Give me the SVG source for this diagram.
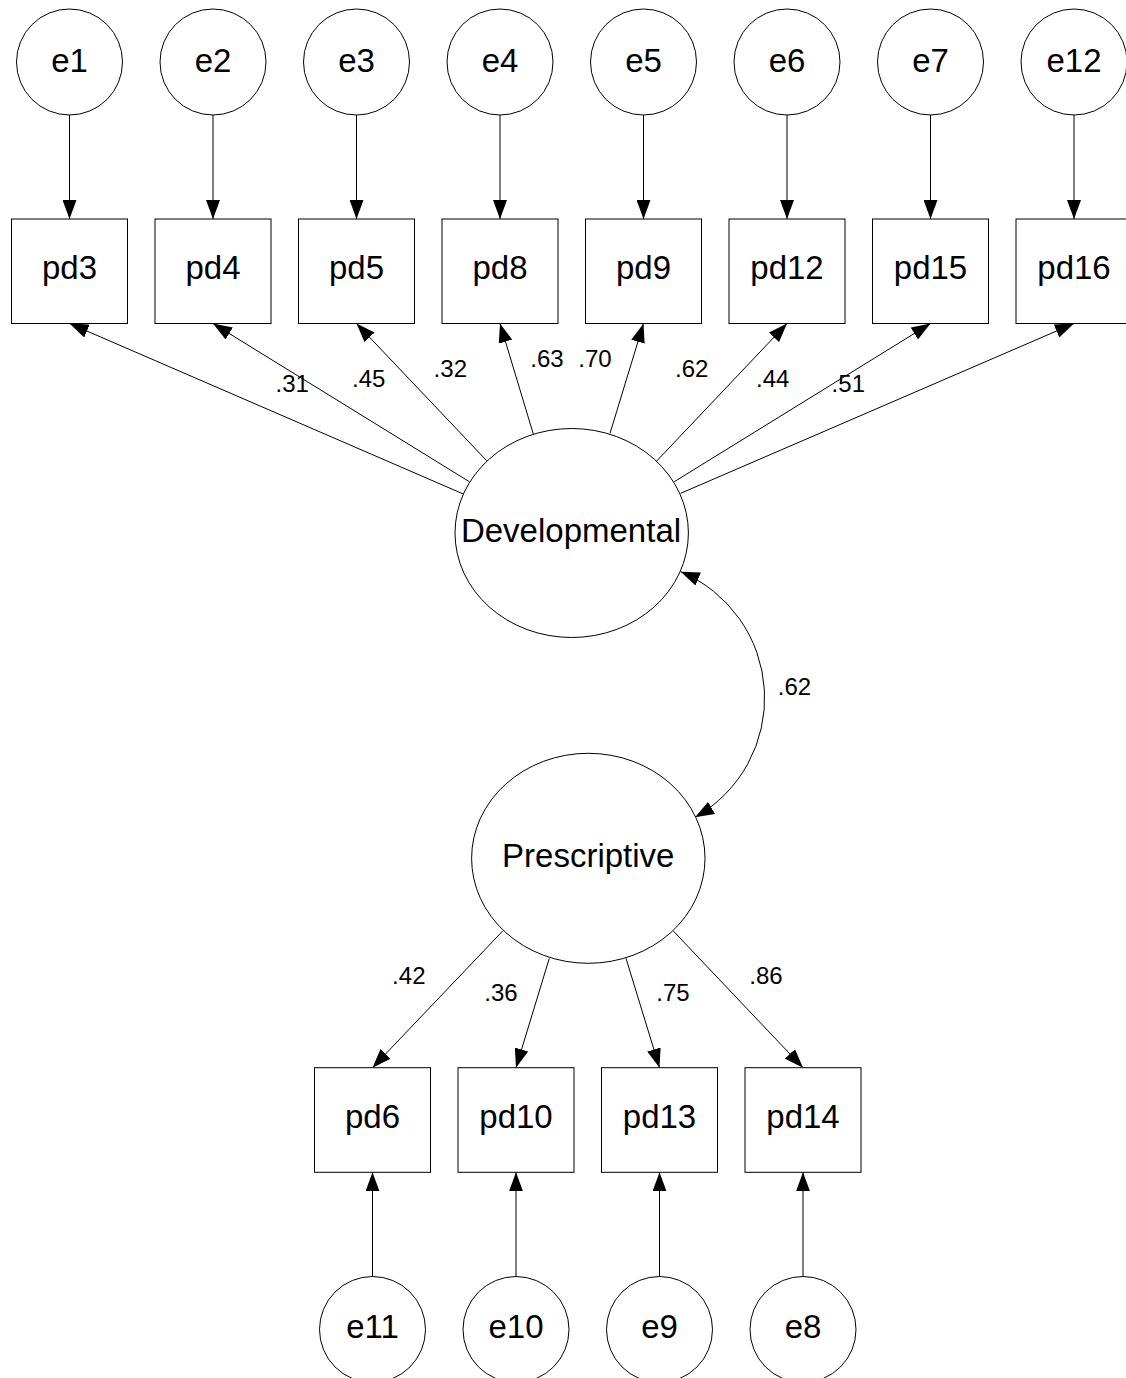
<svg xmlns="http://www.w3.org/2000/svg" width="1126" height="1378" viewBox="0 0 1126 1378">
  <defs>
    <marker id="head" markerUnits="userSpaceOnUse" markerWidth="20" markerHeight="14" refX="19" refY="7" orient="auto-start-reverse">
      <path d="M0,0 L19,7 L0,14 z" fill="#000"/>
    </marker>
    <style>
      .shape { fill: #fff; stroke: #000; stroke-width: 1; }
      .lbl { font-family: "Liberation Sans", Arial, sans-serif; font-size: 33px; text-anchor: middle; fill: #000; }
      .coef { font-family: "Liberation Sans", Arial, sans-serif; font-size: 24px; text-anchor: middle; fill: #000; }
      .edge { fill: none; stroke: #000; stroke-width: 1; marker-end: url(#head); }
      .both { fill: none; stroke: #000; stroke-width: 1; marker-start: url(#head); marker-end: url(#head); }
    </style>
  </defs>
  <rect width="1126" height="1378" fill="#fff"/>

  <!-- connectors -->
  <g id="connectors">
    <!-- error terms onto the Developmental indicators -->
    <line class="edge" x1="69.5" y1="115" x2="69.5" y2="219"/>
    <line class="edge" x1="213" y1="115" x2="213" y2="219"/>
    <line class="edge" x1="356.5" y1="115" x2="356.5" y2="219"/>
    <line class="edge" x1="500" y1="115" x2="500" y2="219"/>
    <line class="edge" x1="643.5" y1="115" x2="643.5" y2="219"/>
    <line class="edge" x1="787" y1="115" x2="787" y2="219"/>
    <line class="edge" x1="930.5" y1="115" x2="930.5" y2="219"/>
    <line class="edge" x1="1074" y1="115" x2="1074" y2="219"/>

    <!-- Developmental loadings -->
    <line class="edge" x1="463.3" y1="494" x2="69.5" y2="323.5"/>
    <line class="edge" x1="469.3" y1="481.7" x2="213" y2="323.5"/>
    <line class="edge" x1="486.7" y1="460.7" x2="356.5" y2="323.5"/>
    <line class="edge" x1="533.3" y1="434" x2="500" y2="323.5"/>
    <line class="edge" x1="610" y1="433.3" x2="643.5" y2="323.5"/>
    <line class="edge" x1="656.7" y1="461" x2="787" y2="323.5"/>
    <line class="edge" x1="674.3" y1="481.7" x2="930.5" y2="323.5"/>
    <line class="edge" x1="680.7" y1="493.3" x2="1074" y2="323.5"/>

    <!-- factor covariance -->
    <path class="both" d="M680.7,571.7 A137,137 0 0 1 695,817.3"/>

    <!-- Prescriptive loadings -->
    <line class="edge" x1="502.7" y1="931" x2="372.5" y2="1067.7"/>
    <line class="edge" x1="549.3" y1="958.3" x2="516" y2="1067.7"/>
    <line class="edge" x1="626" y1="958.3" x2="659.5" y2="1067.7"/>
    <line class="edge" x1="673.3" y1="931" x2="803" y2="1067.7"/>

    <!-- error terms onto the Prescriptive indicators -->
    <line class="edge" x1="372.5" y1="1276.5" x2="372.5" y2="1172.3"/>
    <line class="edge" x1="516" y1="1276.5" x2="516" y2="1172.3"/>
    <line class="edge" x1="659.5" y1="1276.5" x2="659.5" y2="1172.3"/>
    <line class="edge" x1="803" y1="1276.5" x2="803" y2="1172.3"/>

    <!-- coefficients -->
    <text class="coef" x="292.2" y="392">.31</text>
    <text class="coef" x="368.7" y="387">.45</text>
    <text class="coef" x="450.3" y="377">.32</text>
    <text class="coef" x="547" y="367">.63</text>
    <text class="coef" x="595" y="367">.70</text>
    <text class="coef" x="691.7" y="377">.62</text>
    <text class="coef" x="772.7" y="387">.44</text>
    <text class="coef" x="848.3" y="392">.51</text>
    <text class="coef" x="794.5" y="695">.62</text>
    <text class="coef" x="408.8" y="983.5">.42</text>
    <text class="coef" x="501" y="1000.5">.36</text>
    <text class="coef" x="673" y="1000.5">.75</text>
    <text class="coef" x="766" y="983.5">.86</text>
  </g>

  <!-- error terms, top row -->
  <g id="e1"><circle class="shape" cx="69.5" cy="62" r="53"/><text class="lbl" x="69.5" y="72">e1</text></g>
  <g id="e2"><circle class="shape" cx="213" cy="62" r="53"/><text class="lbl" x="213" y="72">e2</text></g>
  <g id="e3"><circle class="shape" cx="356.5" cy="62" r="53"/><text class="lbl" x="356.5" y="72">e3</text></g>
  <g id="e4"><circle class="shape" cx="500" cy="62" r="53"/><text class="lbl" x="500" y="72">e4</text></g>
  <g id="e5"><circle class="shape" cx="643.5" cy="62" r="53"/><text class="lbl" x="643.5" y="72">e5</text></g>
  <g id="e6"><circle class="shape" cx="787" cy="62" r="53"/><text class="lbl" x="787" y="72">e6</text></g>
  <g id="e7"><circle class="shape" cx="930.5" cy="62" r="53"/><text class="lbl" x="930.5" y="72">e7</text></g>
  <g id="e12"><circle class="shape" cx="1074" cy="62" r="53"/><text class="lbl" x="1074" y="72">e12</text></g>

  <!-- observed indicators, top row -->
  <g id="pd3"><rect class="shape" x="11.5" y="219" width="116" height="104.5"/><text class="lbl" x="69.5" y="279">pd3</text></g>
  <g id="pd4"><rect class="shape" x="155" y="219" width="116" height="104.5"/><text class="lbl" x="213" y="279">pd4</text></g>
  <g id="pd5"><rect class="shape" x="298.5" y="219" width="116" height="104.5"/><text class="lbl" x="356.5" y="279">pd5</text></g>
  <g id="pd8"><rect class="shape" x="442" y="219" width="116" height="104.5"/><text class="lbl" x="500" y="279">pd8</text></g>
  <g id="pd9"><rect class="shape" x="585.5" y="219" width="116" height="104.5"/><text class="lbl" x="643.5" y="279">pd9</text></g>
  <g id="pd12"><rect class="shape" x="729" y="219" width="116" height="104.5"/><text class="lbl" x="787" y="279">pd12</text></g>
  <g id="pd15"><rect class="shape" x="872.5" y="219" width="116" height="104.5"/><text class="lbl" x="930.5" y="279">pd15</text></g>
  <g id="pd16"><rect class="shape" x="1016" y="219" width="116" height="104.5"/><text class="lbl" x="1074" y="279">pd16</text></g>

  <!-- latent factors -->
  <g id="Developmental"><ellipse class="shape" cx="571.7" cy="533" rx="116.7" ry="104.5"/><text class="lbl" x="571" y="541.7">Developmental</text></g>
  <g id="Prescriptive"><ellipse class="shape" cx="588.3" cy="858.3" rx="116.7" ry="105"/><text class="lbl" x="588.3" y="867.3">Prescriptive</text></g>

  <!-- observed indicators, bottom row -->
  <g id="pd6"><rect class="shape" x="314.5" y="1067.7" width="116" height="104.6"/><text class="lbl" x="372.5" y="1128">pd6</text></g>
  <g id="pd10"><rect class="shape" x="458" y="1067.7" width="116" height="104.6"/><text class="lbl" x="516" y="1128">pd10</text></g>
  <g id="pd13"><rect class="shape" x="601.5" y="1067.7" width="116" height="104.6"/><text class="lbl" x="659.5" y="1128">pd13</text></g>
  <g id="pd14"><rect class="shape" x="745" y="1067.7" width="116" height="104.6"/><text class="lbl" x="803" y="1128">pd14</text></g>

  <!-- error terms, bottom row -->
  <g id="e11"><circle class="shape" cx="372.5" cy="1329.5" r="53"/><text class="lbl" x="372.5" y="1338">e11</text></g>
  <g id="e10"><circle class="shape" cx="516" cy="1329.5" r="53"/><text class="lbl" x="516" y="1338">e10</text></g>
  <g id="e9"><circle class="shape" cx="659.5" cy="1329.5" r="53"/><text class="lbl" x="659.5" y="1338">e9</text></g>
  <g id="e8"><circle class="shape" cx="803" cy="1329.5" r="53"/><text class="lbl" x="803" y="1338">e8</text></g>
</svg>
